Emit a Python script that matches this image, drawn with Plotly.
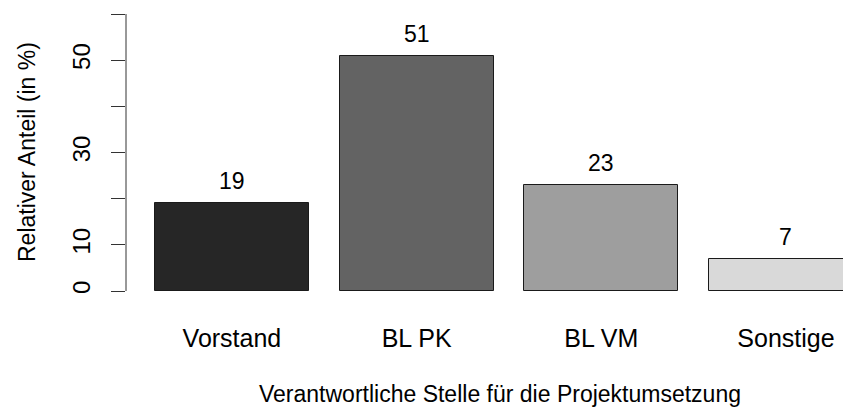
import plotly.graph_objects as go

categories = ["Vorstand", "BL PK", "BL VM", "Sonstige"]
values = [19, 51, 23, 7]
bar_colors = ["#262626", "#636363", "#9E9E9E", "#D9D9D9"]
y_tick_vals = [0, 10, 20, 30, 40, 50, 60]
y_tick_text = ["0", "10", "", "30", "", "50", ""]

# R barplot positions: width 1, space 0.2
x_pos = [0.2 + 1.2 * i + 0.5 for i in range(len(categories))]

FONT = "Liberation Sans, Arial, sans-serif"
FS = 23

# page has 8px body margin; plot area spans page x 126..851, y 8..302
PL, PR, PT, PB = 126, 851, 8, 302


def px(xp):
    return (xp - PL) / (PR - PL)


def py(yp):
    return (PB - yp) / (PB - PT)


fig = go.Figure()
fig.add_trace(go.Bar(
    x=x_pos, y=values, width=1.0,
    marker=dict(color=bar_colors, line=dict(color="#1a1a1a", width=1)),
    showlegend=False, hoverinfo="skip",
))

for xv, v in zip(x_pos, values):
    fig.add_annotation(x=xv, y=v, text=str(v), showarrow=False, yshift=22,
                       yanchor="middle", xanchor="center",
                       font=dict(family=FONT, size=FS, color="black"))

# y axis line (R style, only from 0 to 60)
fig.add_shape(type="line", xref="paper", yref="y", x0=0, x1=0, y0=0, y1=60,
              line=dict(color="#333333", width=1))

fig.add_annotation(xref="paper", yref="paper", x=px(500), y=py(394),
                   text="Verantwortliche Stelle für die Projektumsetzung", showarrow=False,
                   xanchor="center", yanchor="middle",
                   font=dict(family=FONT, size=FS, color="black"))
fig.add_annotation(xref="paper", yref="paper", x=px(27), y=py(152),
                   text="Relativer Anteil (in %)", showarrow=False, textangle=-90,
                   xanchor="center", yanchor="middle",
                   font=dict(family=FONT, size=FS, color="black"))

fig.update_layout(
    width=843, height=402,
    margin=dict(l=PL - 8, r=0, t=0, b=402 - (PB - 8)),
    paper_bgcolor="white", plot_bgcolor="white",
    font=dict(family=FONT, size=FS, color="black"),
    bargap=0,
)
fig.update_xaxes(
    range=[0.0116, 4.7225], tickmode="array", tickvals=x_pos, ticktext=categories,
    showgrid=False, zeroline=False, showline=False, ticks="",
    ticklabelstandoff=19, tickfont=dict(family=FONT, size=25, color="black"),
)
fig.update_yaxes(
    range=[-2.38, 61.3], tickmode="array", tickvals=y_tick_vals, ticktext=y_tick_text,
    showgrid=False, zeroline=False, showline=False,
    ticks="outside", ticklen=14, tickcolor="#333333", tickwidth=1,
    ticklabelstandoff=11,
    tickangle=-90, tickfont=dict(family=FONT, size=24, color="black"),
)

fig.write_html("out.html")
